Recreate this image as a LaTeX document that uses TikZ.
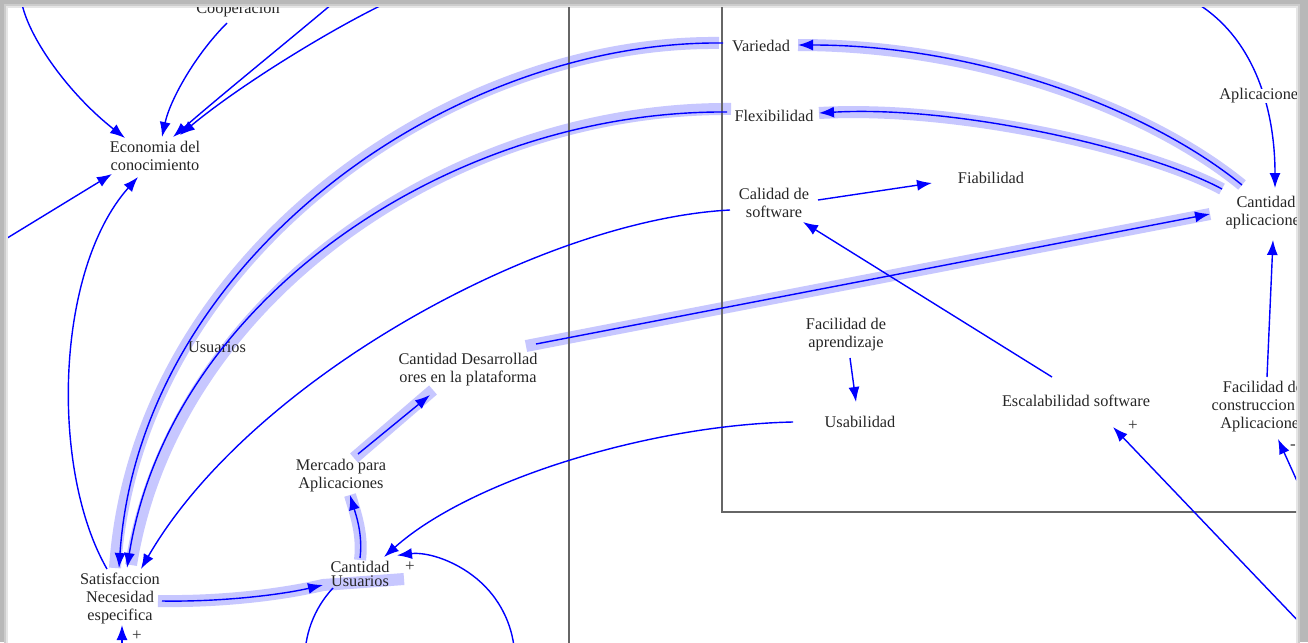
\documentclass[tikz,border=0pt]{standalone}
\usepackage{fontspec}
\setmainfont{Liberation Serif}
\usetikzlibrary{arrows.meta}
\pgfdeclarelayer{paper}
\pgfdeclarelayer{bands}
\pgfsetlayers{paper,bands,main}
\begin{document}
\begin{tikzpicture}[x=1pt,y=-1pt,
  lbl/.style={font=\fontsize{16.3}{18}\selectfont, text=black!85, align=center, inner sep=1pt},
  link/.style={draw=blue, line width=1.4pt, -{Latex[length=15pt,width=11pt]}},
  band/.style={draw=blue!22, line width=12pt, line cap=butt},
  frameline/.style={draw=black!60, line width=2pt},
  sign/.style={font=\fontsize{17}{17}\selectfont, text=black!80, inner sep=0pt}]

\useasboundingbox (0,0) rectangle (1308,642);

% variables
\begin{scope}
\clip (8,8) rectangle (1296,642);
\node[lbl] (coop) at (238,10) {Cooperacion};
\node[lbl] (eco) at (155,156) {Economia del\\conocimiento};
\node[lbl] (var) at (761,46) {Variedad};
\node[lbl] (flex) at (774,116) {Flexibilidad};
\node[lbl] (cal) at (774,203) {Calidad de\\software};
\node[lbl] (fia) at (991,178) {Fiabilidad};
\node[lbl] (capp) at (1266,213) {Cantidad\\aplicaciones};
\node[lbl] (fapr) at (846,335) {Facilidad de\\aprendizaje};
\node[lbl] (usab) at (860,422) {Usabilidad};
\node[lbl] (esc) at (1076,401) {Escalabilidad software};
\node[lbl] (fcon) at (1263,407) {Facilidad de\\construccion de\\Aplicaciones};
\node[lbl] (usul) at (217,347) {Usuarios};
\node[lbl] (cdes) at (468,370) {Cantidad Desarrollad\\ores en la plataforma};
\node[lbl] (merc) at (341,476) {Mercado para\\Aplicaciones};
\node[lbl, font=\fontsize{16.3}{14}\selectfont] (cusu) at (360,574) {Cantidad\\Usuarios};
\node[lbl] (sat) at (120,598) {Satisfaccion\\Necesidad\\especifica};
\end{scope}

% loose ends leaving the page
\coordinate (ext1) at (22,4);
\coordinate (ext2a) at (332,4);
\coordinate (ext2b) at (384,4);
\coordinate (ext3) at (4,240);
\coordinate (ext4) at (1198,4);
\coordinate (ext5) at (1302,625);
\coordinate (ext6) at (1302,492);
\coordinate (ext7) at (122,650);

% page and its drop shadow
\begin{pgfonlayer}{paper}
\fill[black!28] (0,0) rectangle (1308,642);
\fill[black!20] (4,4) rectangle (1300,660);
\fill[black!10] (6,6) rectangle (1298,660);
\fill[white] (8,8) rectangle (1296,660);
\end{pgfonlayer}

% highlighted loop bands
\begin{pgfonlayer}{bands}
\begin{scope}
\clip (8,8) rectangle (1296,642);
\draw[band, transform canvas={xshift=-4pt}] ([shift={(-38,-3)}]var.center) .. controls (450,40) and (140,260) .. ([shift={(-1,-30)}]sat.center);
\draw[band, transform canvas={xshift=4pt,yshift=3pt}] ([shift={(-47,-4)}]flex.center) .. controls (450,110) and (170,300) .. ([shift={(7,-30)}]sat.center);
\draw[band] ([shift={(-24,-28)}]capp.center) .. controls (1150,110) and (980,45) .. ([shift={(37,-1)}]var.center);
\draw[band] ([shift={(-44,-24)}]capp.center) .. controls (1150,150) and (960,105) .. ([shift={(45,-3)}]flex.center);
\draw[band] ([shift={(58,-24)}]cdes.center) -- ([shift={(-56,1)}]capp.center);
\draw[band] ([shift={(13,-18)}]merc.center) -- ([shift={(-35,20)}]cdes.center);
\draw[band] ([shift={(0,-14)}]cusu.center) .. controls (363,535) and (356,515) .. ([shift={(9,19)}]merc.center);
\draw[band] ([shift={(38,3)}]sat.center) .. controls (220,602) and (280,595) .. ([shift={(-37,11)}]cusu.center) -- ([shift={(44,5)}]cusu.center);
\end{scope}
\end{pgfonlayer}

\begin{scope}
\clip (8,8) rectangle (1296,642);
% sector boundaries
\draw[frameline] (569,0) -- (569,650);
\draw[frameline] (722,0) -- (722,512) -- (1310,512);

% causal links
\draw[link] (ext1) .. controls (30,40) and (70,95) .. ([shift={(-30,-18)}]eco.center);
\draw[link] ([shift={(-11,13)}]coop.center) .. controls (195,55) and (170,100) .. ([shift={(7,-19)}]eco.center);
\draw[link] (ext2a) .. controls (282,46) and (225,92) .. ([shift={(18,-19)}]eco.center);
\draw[link] (ext2b) .. controls (330,30) and (240,85) .. ([shift={(25,-21)}]eco.center);
\draw[link] (ext3) -- ([shift={(-43,18)}]eco.center);
\draw[link] ([shift={(-13,-29)}]sat.center) .. controls (50,470) and (55,270) .. ([shift={(-17,21)}]eco.center);
\draw[link] ([shift={(-38,-3)}]var.center) .. controls (450,40) and (140,260) .. ([shift={(-1,-30)}]sat.center);
\draw[link] ([shift={(-47,-4)}]flex.center) .. controls (450,110) and (170,300) .. ([shift={(7,-30)}]sat.center);
\draw[link] ([shift={(-44,7)}]cal.center) .. controls (540,220) and (250,380) .. ([shift={(21,-29)}]sat.center);
\draw[link] ([shift={(44,-3)}]cal.center) -- ([shift={(-59,5)}]fia.center);
\draw[link] ([shift={(-24,-28)}]capp.center) .. controls (1150,110) and (980,45) .. ([shift={(37,-1)}]var.center);
\draw[link] ([shift={(-44,-24)}]capp.center) .. controls (1150,150) and (960,105) .. ([shift={(45,-3)}]flex.center);
\draw[link] ([shift={(68,-26)}]cdes.center) -- ([shift={(-56,1)}]capp.center);
\draw[link] (ext4) .. controls (1255,40) and (1275,110) .. ([shift={(9,-25)}]capp.center);
\draw[link] ([shift={(4,-30)}]fcon.center) -- ([shift={(7,27)}]capp.center);
\draw[link] ([shift={(-24,-24)}]esc.center) -- ([shift={(29,19)}]cal.center);
\draw[link] ([shift={(4,23)}]fapr.center) -- ([shift={(-4,-20)}]usab.center);
\draw[link] (ext5) -- ([shift={(37,26)}]esc.center);
\draw[link] (ext6) -- ([shift={(15,32)}]fcon.center);
\draw[link] ([shift={(-67,0)}]usab.center) .. controls (650,425) and (470,480) .. ([shift={(24,-17)}]cusu.center);
\draw[link] ([shift={(17,-22)}]merc.center) -- ([shift={(-38,25)}]cdes.center);
\draw[link] ([shift={(0,-16)}]cusu.center) .. controls (363,535) and (356,515) .. ([shift={(9,19)}]merc.center);
\draw[link] ([shift={(42,3)}]sat.center) .. controls (220,602) and (280,595) .. ([shift={(-37,11)}]cusu.center);
\draw[link] ([shift={(-27,14)}]cusu.center) arc[start angle=223, end angle=-97, radius=105];
\draw[link] (ext7) -- ([shift={(2,27)}]sat.center);

% label sitting on the incoming link
\node[lbl, fill=white, inner sep=0pt] (aplab) at (1262,96) {Aplicaciones};

% polarity signs
\node[sign] (s1) at (410,567) {+};
\node[sign] (s2) at (137,636) {+};
\node[sign] (s3) at (1133,426) {+};
\node[sign] (s4) at (1293,447) {-};
\end{scope}
\end{tikzpicture}
\end{document}
